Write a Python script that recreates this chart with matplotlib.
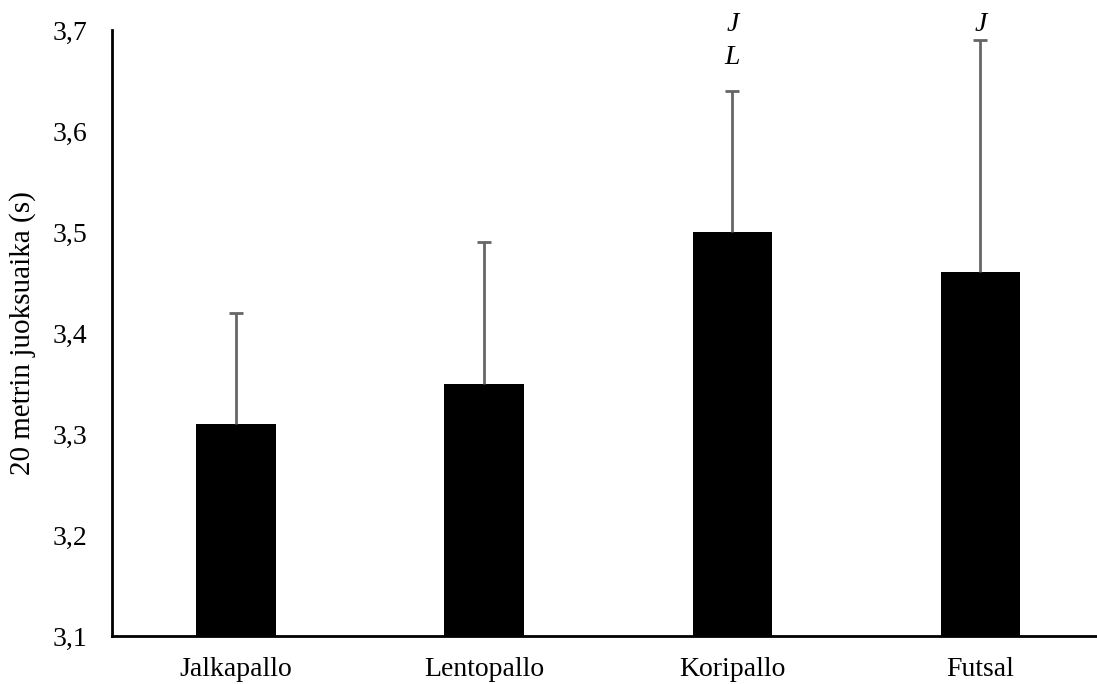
import matplotlib
matplotlib.use("Agg")
import matplotlib.pyplot as plt
from matplotlib.ticker import FuncFormatter

categories = ["Jalkapallo", "Lentopallo", "Koripallo", "Futsal"]
means = [3.31, 3.35, 3.50, 3.46]
sds = [0.11, 0.14, 0.14, 0.23]
annotations = ["", "", "J\nL", "J"]
yticks = [3.1, 3.2, 3.3, 3.4, 3.5, 3.6, 3.7]

plt.rcParams['font.family'] = ['Liberation Serif', 'DejaVu Serif']

fig = plt.figure(figsize=(10.97, 6.84), dpi=100)
ax = fig.add_axes([112/1097, (684-636)/684, 1 - 112/1097, (636-30)/684])

x = list(range(len(categories)))
ax.bar(x, means, width=0.32, color='black', zorder=2)
eb = ax.errorbar(x, means, yerr=[[0]*len(sds), sds], fmt='none', ecolor='#666666',
                 elinewidth=2, capsize=5, capthick=2, zorder=3)
# hide the lower caps (only the upper error is shown)
caps = eb[1]
if len(caps) >= 2:
    caps[0].set_visible(False)

ax.set_ylim(3.1, 3.7)
ax.set_xlim(-0.5, 3.47)
ax.set_yticks(yticks)
ax.yaxis.set_major_formatter(FuncFormatter(lambda v, p: f"{v:.1f}".replace('.', ',')))
ax.set_xticks(x)
ax.set_xticklabels(categories)
ax.tick_params(axis='both', length=0, labelsize=20)
ax.tick_params(axis='x', pad=15)
ax.tick_params(axis='y', pad=18)
for s in ['top', 'right']:
    ax.spines[s].set_visible(False)
for s in ['left', 'bottom']:
    ax.spines[s].set_linewidth(2)
ax.set_ylabel("20 metrin juoksuaika (s)", fontsize=21, labelpad=12)

for xi, a in zip(x, annotations):
    if a:
        ax.text(xi, 3.718, a, ha='center', va='top', style='italic', fontsize=20,
                linespacing=1.45, clip_on=False)

fig.savefig("out.png", dpi=100)
